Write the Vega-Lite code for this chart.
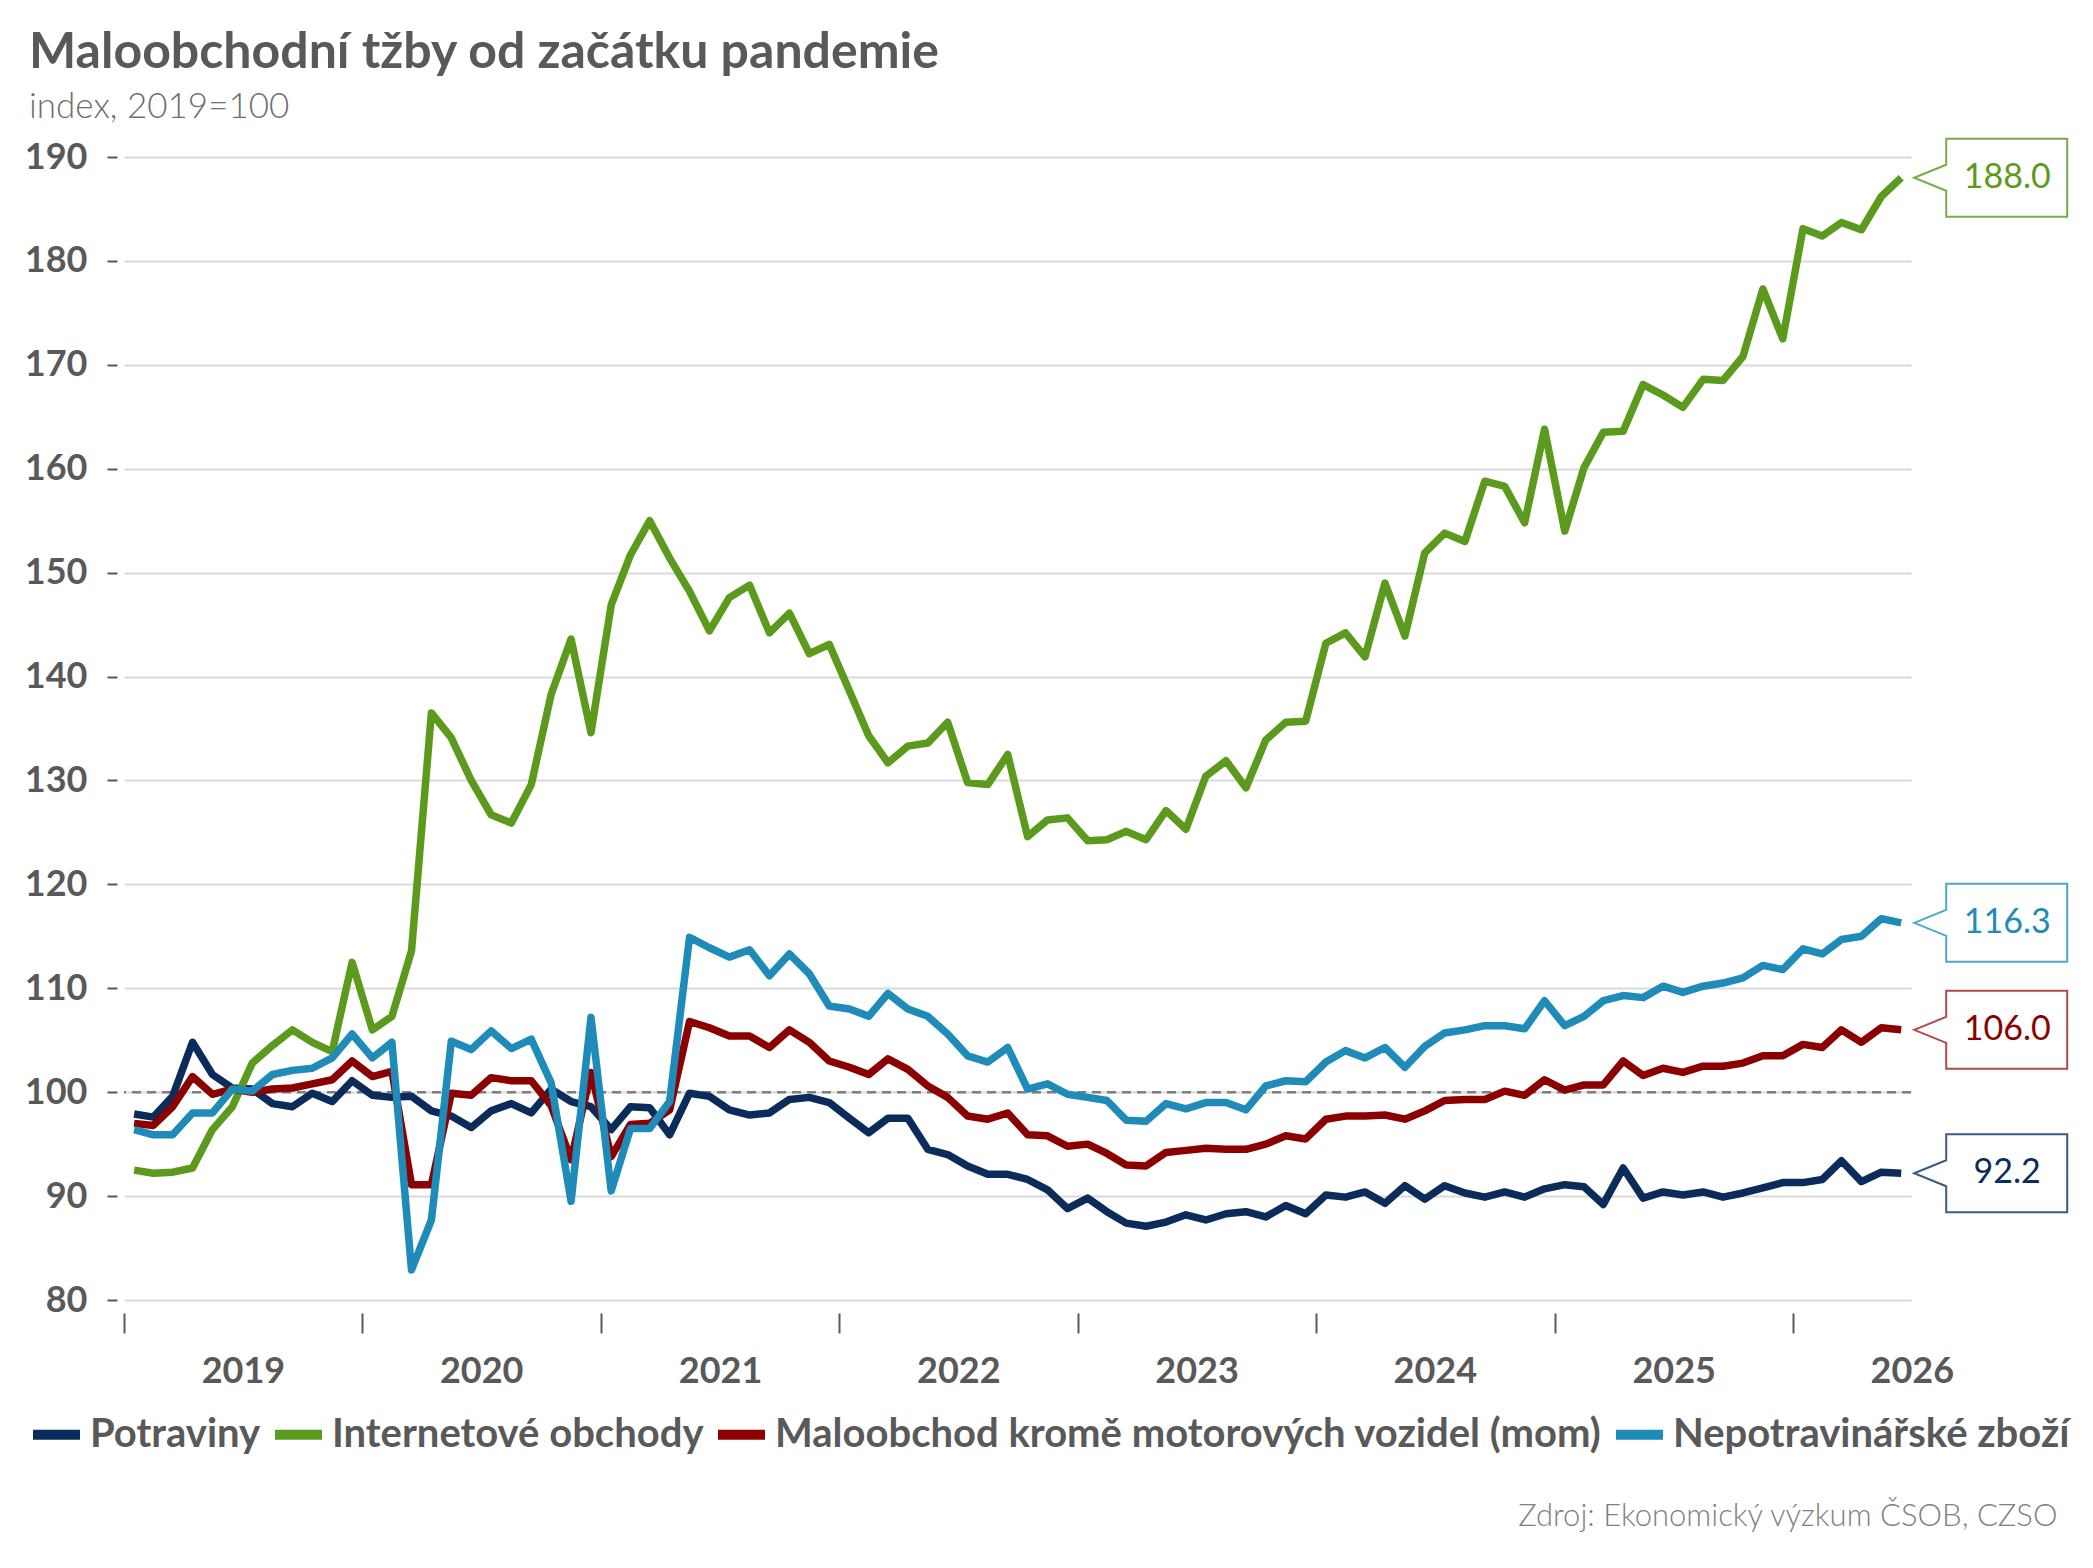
{
  "$schema": "https://vega.github.io/schema/vega-lite/v6.json",
  "width": 1787,
  "height": 1143,
  "autosize": {"type": "none"},
  "padding": {"left": 124, "top": 157, "right": 182, "bottom": 268},
  "background": "white",
  "title": {
    "text": "Maloobchodní tžby od začátku pandemie",
    "subtitle": "index, 2019=100",
    "anchor": "start",
    "frame": "group",
    "dx": -95,
    "offset": 10,
    "font": "Lato",
    "fontSize": 50,
    "fontWeight": "bold",
    "color": "#595959",
    "subtitleFont": "Lato",
    "subtitleFontSize": 35,
    "subtitleFontWeight": 300,
    "subtitleColor": "#6f6f6f",
    "subtitlePadding": 12
  },
  "datasets": {
    "retail": [
      {"d": "2019-01", "p": 97.9, "i": 92.5, "m": 97.0, "n": 96.4},
      {"d": "2019-02", "p": 97.6, "i": 92.2, "m": 96.8, "n": 95.9},
      {"d": "2019-03", "p": 99.6, "i": 92.3, "m": 98.6, "n": 95.9},
      {"d": "2019-04", "p": 104.8, "i": 92.7, "m": 101.5, "n": 98.0},
      {"d": "2019-05", "p": 101.7, "i": 96.4, "m": 99.8, "n": 98.0},
      {"d": "2019-06", "p": 100.4, "i": 98.6, "m": 100.3, "n": 100.3},
      {"d": "2019-07", "p": 100.3, "i": 102.8, "m": 100.0, "n": 100.1},
      {"d": "2019-08", "p": 98.9, "i": 104.5, "m": 100.3, "n": 101.7},
      {"d": "2019-09", "p": 98.6, "i": 106.0, "m": 100.4, "n": 102.1},
      {"d": "2019-10", "p": 99.9, "i": 104.8, "m": 100.8, "n": 102.3},
      {"d": "2019-11", "p": 99.1, "i": 103.9, "m": 101.2, "n": 103.3},
      {"d": "2019-12", "p": 101.1, "i": 112.5, "m": 103.0, "n": 105.6},
      {"d": "2020-01", "p": 99.7, "i": 106.0, "m": 101.5, "n": 103.3},
      {"d": "2020-02", "p": 99.5, "i": 107.3, "m": 102.0, "n": 104.8},
      {"d": "2020-03", "p": 99.6, "i": 113.6, "m": 91.1, "n": 82.9},
      {"d": "2020-04", "p": 98.2, "i": 136.5, "m": 91.1, "n": 87.7},
      {"d": "2020-05", "p": 97.7, "i": 134.1, "m": 99.9, "n": 104.9},
      {"d": "2020-06", "p": 96.6, "i": 130.0, "m": 99.7, "n": 104.1},
      {"d": "2020-07", "p": 98.2, "i": 126.7, "m": 101.4, "n": 105.9},
      {"d": "2020-08", "p": 98.9, "i": 125.9, "m": 101.1, "n": 104.2},
      {"d": "2020-09", "p": 98.0, "i": 129.6, "m": 101.1, "n": 105.1},
      {"d": "2020-10", "p": 100.3, "i": 138.3, "m": 98.7, "n": 100.9},
      {"d": "2020-11", "p": 99.1, "i": 143.6, "m": 93.5, "n": 89.5},
      {"d": "2020-12", "p": 98.6, "i": 134.6, "m": 101.9, "n": 107.2},
      {"d": "2021-01", "p": 96.4, "i": 146.9, "m": 93.8, "n": 90.5},
      {"d": "2021-02", "p": 98.6, "i": 151.7, "m": 96.9, "n": 96.5},
      {"d": "2021-03", "p": 98.5, "i": 155.0, "m": 97.0, "n": 96.5},
      {"d": "2021-04", "p": 95.9, "i": 151.4, "m": 98.3, "n": 99.1},
      {"d": "2021-05", "p": 99.9, "i": 148.2, "m": 106.8, "n": 114.9},
      {"d": "2021-06", "p": 99.6, "i": 144.4, "m": 106.2, "n": 113.9},
      {"d": "2021-07", "p": 98.3, "i": 147.6, "m": 105.4, "n": 113.0},
      {"d": "2021-08", "p": 97.8, "i": 148.8, "m": 105.4, "n": 113.7},
      {"d": "2021-09", "p": 98.0, "i": 144.2, "m": 104.3, "n": 111.2},
      {"d": "2021-10", "p": 99.3, "i": 146.1, "m": 106.0, "n": 113.3},
      {"d": "2021-11", "p": 99.5, "i": 142.2, "m": 104.8, "n": 111.4},
      {"d": "2021-12", "p": 99.0, "i": 143.1, "m": 103.0, "n": 108.3},
      {"d": "2022-01", "p": 97.5, "i": 138.6, "m": 102.4, "n": 108.0},
      {"d": "2022-02", "p": 96.1, "i": 134.3, "m": 101.7, "n": 107.3},
      {"d": "2022-03", "p": 97.5, "i": 131.7, "m": 103.2, "n": 109.5},
      {"d": "2022-04", "p": 97.5, "i": 133.3, "m": 102.2, "n": 108.0},
      {"d": "2022-05", "p": 94.5, "i": 133.6, "m": 100.6, "n": 107.3},
      {"d": "2022-06", "p": 94.0, "i": 135.6, "m": 99.5, "n": 105.6},
      {"d": "2022-07", "p": 92.9, "i": 129.8, "m": 97.7, "n": 103.5},
      {"d": "2022-08", "p": 92.1, "i": 129.6, "m": 97.4, "n": 102.9},
      {"d": "2022-09", "p": 92.1, "i": 132.5, "m": 98.0, "n": 104.3},
      {"d": "2022-10", "p": 91.6, "i": 124.6, "m": 95.9, "n": 100.3},
      {"d": "2022-11", "p": 90.6, "i": 126.2, "m": 95.8, "n": 100.8},
      {"d": "2022-12", "p": 88.8, "i": 126.4, "m": 94.8, "n": 99.8},
      {"d": "2023-01", "p": 89.8, "i": 124.2, "m": 95.0, "n": 99.5},
      {"d": "2023-02", "p": 88.5, "i": 124.3, "m": 94.1, "n": 99.2},
      {"d": "2023-03", "p": 87.4, "i": 125.1, "m": 93.0, "n": 97.3},
      {"d": "2023-04", "p": 87.1, "i": 124.3, "m": 92.9, "n": 97.2},
      {"d": "2023-05", "p": 87.5, "i": 127.1, "m": 94.2, "n": 98.9},
      {"d": "2023-06", "p": 88.2, "i": 125.3, "m": 94.4, "n": 98.4},
      {"d": "2023-07", "p": 87.7, "i": 130.4, "m": 94.6, "n": 99.0},
      {"d": "2023-08", "p": 88.3, "i": 131.9, "m": 94.5, "n": 99.0},
      {"d": "2023-09", "p": 88.5, "i": 129.3, "m": 94.5, "n": 98.3},
      {"d": "2023-10", "p": 88.0, "i": 133.9, "m": 95.0, "n": 100.6},
      {"d": "2023-11", "p": 89.1, "i": 135.6, "m": 95.8, "n": 101.1},
      {"d": "2023-12", "p": 88.3, "i": 135.7, "m": 95.5, "n": 101.0},
      {"d": "2024-01", "p": 90.1, "i": 143.2, "m": 97.4, "n": 102.9},
      {"d": "2024-02", "p": 89.9, "i": 144.2, "m": 97.7, "n": 104.0},
      {"d": "2024-03", "p": 90.4, "i": 141.9, "m": 97.7, "n": 103.3},
      {"d": "2024-04", "p": 89.3, "i": 149.0, "m": 97.8, "n": 104.3},
      {"d": "2024-05", "p": 91.0, "i": 143.9, "m": 97.4, "n": 102.4},
      {"d": "2024-06", "p": 89.7, "i": 151.9, "m": 98.2, "n": 104.4},
      {"d": "2024-07", "p": 91.0, "i": 153.8, "m": 99.2, "n": 105.7},
      {"d": "2024-08", "p": 90.3, "i": 153.0, "m": 99.3, "n": 106.0},
      {"d": "2024-09", "p": 89.9, "i": 158.8, "m": 99.3, "n": 106.4},
      {"d": "2024-10", "p": 90.4, "i": 158.3, "m": 100.1, "n": 106.4},
      {"d": "2024-11", "p": 89.9, "i": 154.8, "m": 99.7, "n": 106.1},
      {"d": "2024-12", "p": 90.7, "i": 163.8, "m": 101.2, "n": 108.8},
      {"d": "2025-01", "p": 91.1, "i": 154.0, "m": 100.2, "n": 106.4},
      {"d": "2025-02", "p": 90.9, "i": 160.1, "m": 100.7, "n": 107.3},
      {"d": "2025-03", "p": 89.2, "i": 163.5, "m": 100.7, "n": 108.8},
      {"d": "2025-04", "p": 92.7, "i": 163.6, "m": 103.0, "n": 109.3},
      {"d": "2025-05", "p": 89.8, "i": 168.1, "m": 101.6, "n": 109.1},
      {"d": "2025-06", "p": 90.4, "i": 167.1, "m": 102.3, "n": 110.2},
      {"d": "2025-07", "p": 90.1, "i": 165.9, "m": 101.9, "n": 109.6},
      {"d": "2025-08", "p": 90.4, "i": 168.6, "m": 102.5, "n": 110.2},
      {"d": "2025-09", "p": 89.9, "i": 168.5, "m": 102.5, "n": 110.5},
      {"d": "2025-10", "p": 90.3, "i": 170.8, "m": 102.8, "n": 111.0},
      {"d": "2025-11", "p": 90.8, "i": 177.3, "m": 103.5, "n": 112.2},
      {"d": "2025-12", "p": 91.3, "i": 172.5, "m": 103.5, "n": 111.8},
      {"d": "2026-01", "p": 91.3, "i": 183.1, "m": 104.6, "n": 113.8},
      {"d": "2026-02", "p": 91.6, "i": 182.4, "m": 104.3, "n": 113.3},
      {"d": "2026-03", "p": 93.4, "i": 183.7, "m": 106.0, "n": 114.7},
      {"d": "2026-04", "p": 91.4, "i": 183.0, "m": 104.8, "n": 115.0},
      {"d": "2026-05", "p": 92.3, "i": 186.2, "m": 106.2, "n": 116.7},
      {"d": "2026-06", "p": 92.2, "i": 188.0, "m": 106.0, "n": 116.3}
    ]
  },
  "layer": [
    {
      "data": {"values": [{"ref": 100}]},
      "mark": {"type": "rule", "color": "#7f7f7f", "strokeWidth": 2.5, "strokeDash": [9, 6]},
      "encoding": {
        "y": {
          "field": "ref",
          "type": "quantitative",
          "scale": {"domain": [80, 190], "nice": false, "zero": false},
          "axis": {
            "values": [80, 90, 100, 110, 120, 130, 140, 150, 160, 170, 180, 190],
            "grid": true,
            "gridColor": "#d9d9d9",
            "gridWidth": 2,
            "domain": false,
            "ticks": true,
            "tickSize": 10,
            "tickWidth": 2,
            "tickColor": "#595959",
            "offset": 7,
            "labelPadding": 20,
            "labelFont": "Lato",
            "labelFontSize": 36,
            "labelFontWeight": "bold",
            "labelColor": "#595959",
            "title": null
          }
        }
      }
    },
    {
      "data": {"name": "retail"},
      "transform": [{"fold": ["p", "i", "m", "n"], "as": ["s", "v"]}],
      "mark": {"type": "line", "strokeWidth": 7.5, "strokeJoin": "round", "strokeCap": "butt"},
      "encoding": {
        "x": {
          "field": "d",
          "type": "temporal",
          "timeUnit": "utcyearmonth",
          "bandPosition": 0.5,
          "scale": {
            "type": "utc",
            "domain": [
              {"year": 2019, "month": 1, "date": 1, "utc": true},
              {"year": 2026, "month": 7, "date": 1, "utc": true}
            ]
          },
          "axis": {
            "values": [
              {"year": 2019, "month": 1, "date": 1, "utc": true},
              {"year": 2020, "month": 1, "date": 1, "utc": true},
              {"year": 2021, "month": 1, "date": 1, "utc": true},
              {"year": 2022, "month": 1, "date": 1, "utc": true},
              {"year": 2023, "month": 1, "date": 1, "utc": true},
              {"year": 2024, "month": 1, "date": 1, "utc": true},
              {"year": 2025, "month": 1, "date": 1, "utc": true},
              {"year": 2026, "month": 1, "date": 1, "utc": true}
            ],
            "labelExpr": "utcFormat(datum.value, '%Y')",
            "labelOffset": 119,
            "labelFlush": false,
            "labelOverlap": false,
            "labelBound": false,
            "grid": false,
            "domain": false,
            "ticks": true,
            "tickSize": 20,
            "tickWidth": 2,
            "tickColor": "#595959",
            "offset": 13,
            "labelPadding": 21,
            "labelFont": "Lato",
            "labelFontSize": 36,
            "labelFontWeight": "bold",
            "labelColor": "#595959",
            "title": "Zdroj: Ekonomický výzkum ČSOB, CZSO",
            "titleX": 1933,
            "titleY": 203,
            "titleAlign": "right",
            "titleBaseline": "middle",
            "titleFont": "Lato",
            "titleFontSize": 31,
            "titleFontWeight": 300,
            "titleColor": "#7f7f7f"
          }
        },
        "y": {"field": "v", "type": "quantitative"},
        "color": {
          "field": "s",
          "type": "nominal",
          "scale": {"domain": ["p", "i", "m", "n"], "range": ["#0b2c5a", "#5b9a1c", "#8b0000", "#1e8bb9"]},
          "legend": {
            "orient": "none",
            "legendX": -96,
            "legendY": 1249,
            "direction": "horizontal",
            "title": null,
            "padding": 0,
            "symbolType": "stroke",
            "symbolSize": 2209,
            "symbolStrokeWidth": 10,
            "labelFont": "Lato",
            "labelFontSize": 40,
            "labelFontWeight": "bold",
            "labelColor": "#595959",
            "labelOffset": 5,
            "labelLimit": 1000,
            "columnPadding": -6,
            "labelExpr": "datum.label == 'p' ? 'Potraviny' : datum.label == 'i' ? 'Internetové obchody' : datum.label == 'm' ? 'Maloobchod kromě motorových vozidel (mom)' : 'Nepotravinářské zboží'"
          }
        }
      }
    },
    {
      "data": {"name": "retail"},
      "transform": [
        {"fold": ["p", "i", "m", "n"], "as": ["s", "v"]},
        {"filter": {"field": "d", "timeUnit": "utcyearmonth", "equal": {"year": 2026, "month": 6, "utc": true}}}
      ],
      "mark": {
        "type": "point",
        "shape": "M13,0L45,-13L45,-39L166,-39L166,39L45,39L45,13Z",
        "size": 4,
        "fill": "white",
        "fillOpacity": 1,
        "opacity": 1,
        "strokeWidth": 2
      },
      "encoding": {
        "x": {"field": "d", "type": "temporal", "timeUnit": "utcyearmonth", "bandPosition": 0.5},
        "y": {"field": "v", "type": "quantitative"},
        "stroke": {
          "field": "s",
          "type": "nominal",
          "scale": {"domain": ["p", "i", "m", "n"], "range": ["#3a5a85", "#78ad45", "#b04a4a", "#4fa6cc"]},
          "legend": null
        }
      }
    },
    {
      "data": {"name": "retail"},
      "transform": [
        {"fold": ["p", "i", "m", "n"], "as": ["s", "v"]},
        {"filter": {"field": "d", "timeUnit": "utcyearmonth", "equal": {"year": 2026, "month": 6, "utc": true}}}
      ],
      "mark": {"type": "text", "dx": 106, "align": "center", "baseline": "middle", "font": "Lato", "fontSize": 34},
      "encoding": {
        "x": {"field": "d", "type": "temporal", "timeUnit": "utcyearmonth", "bandPosition": 0.5},
        "y": {"field": "v", "type": "quantitative"},
        "text": {"field": "v", "type": "quantitative", "format": ".1f"},
        "color": {"field": "s", "type": "nominal", "legend": null}
      }
    }
  ],
  "config": {
    "view": {"stroke": null},
    "font": "Lato"
  }
}
